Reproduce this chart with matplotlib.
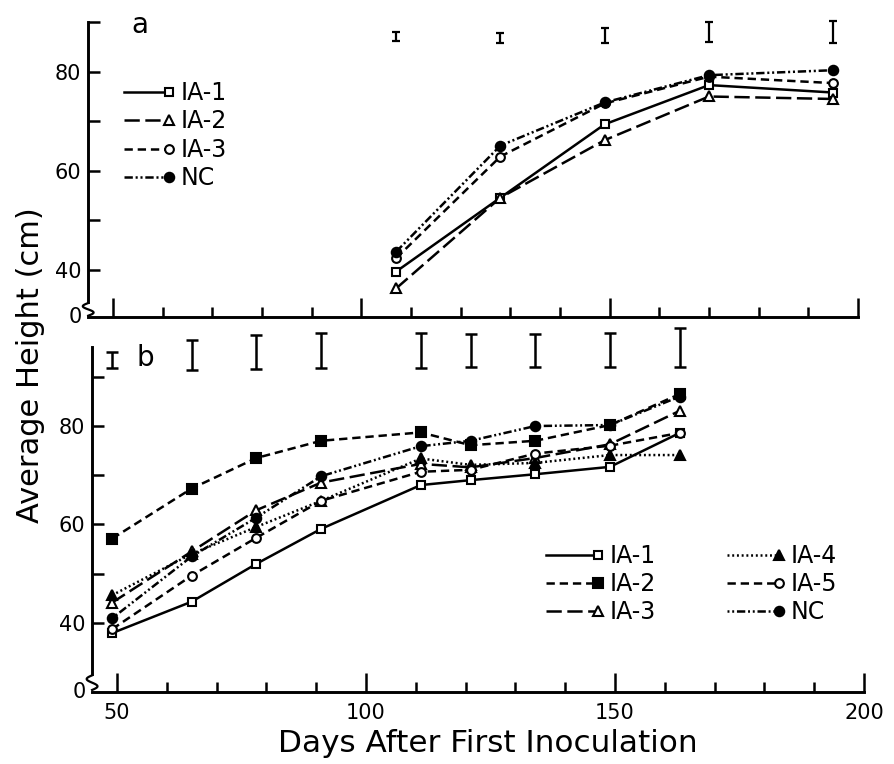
import numpy as np
import matplotlib
matplotlib.use("Agg")
import matplotlib.pyplot as plt
from matplotlib.lines import Line2D
from matplotlib.legend_handler import HandlerLine2D

plt.rcParams['font.family'] = ['DejaVu Sans']
plt.rcParams['lines.scale_dashes'] = False

# ---------------- data ----------------
# panel a
days_a = [107, 128, 149, 170, 195]
a_ia1 = [39.7, 54.6, 69.4, 77.3, 75.8]
a_ia2 = [36.3, 54.6, 66.2, 75.0, 74.5]
a_ia3 = [42.4, 62.9, 73.6, 79.0, 77.7]
a_nc = [43.7, 65.1, 73.8, 79.3, 80.3]
a_bar_center = [87.1, 86.8, 87.3, 88.0, 88.0]
a_bar_half = [1.0, 0.95, 1.45, 2.1, 2.25]

# panel b
days_b = [49, 65, 78, 91, 111, 121, 134, 149, 163]
b_ia1 = [37.9, 44.3, 52.0, 59.1, 68.0, 69.0, 70.2, 71.7, 78.6]
b_ia2 = [57.1, 67.3, 73.5, 77.0, 78.7, 76.1, 77.0, 80.2, 86.5]
b_ia3 = [44.1, 54.5, 62.9, 68.5, 72.3, 71.6, 73.5, 76.3, 83.1]
b_ia4 = [45.6, 54.0, 59.5, 64.8, 73.4, 72.1, 72.5, 74.1, 74.1]
b_ia5 = [38.7, 49.6, 57.3, 64.8, 70.7, 71.1, 74.4, 76.0, 78.6]
b_nc = [40.9, 53.5, 61.4, 69.8, 75.9, 77.0, 80.0, 80.2, 86.0]
b_bar_center = [93.4, 94.5, 95.0, 95.3, 95.3, 95.4, 95.4, 95.5, 95.9]
b_bar_half = [1.7, 3.05, 3.5, 3.55, 3.55, 3.4, 3.4, 3.5, 3.95]

y_ticks = [40, 50, 60, 70, 80, 90]
y_ticklabels = ['40', '', '60', '', '80', '']
x_major = [50, 100, 150, 200]
x_labels = ['50', '100', '150', '200']

# ---------------- figure ----------------
W, H = 895, 764
fig = plt.figure(figsize=(W / 100, H / 100), dpi=100)


def px_axes(x0, x1, y_top, y_bot):
    return fig.add_axes([x0 / W, 1 - y_bot / H, (x1 - x0) / W, (y_bot - y_top) / H])


ax_a = px_axes(88.2, 858, 22.1, 317.2)
ax_b = px_axes(92.1, 864, 347.3, 691.7)
ax_a.set_xlim(45, 200)
ax_a.set_ylim(30.5, 90)
ax_b.set_xlim(45, 200)
ax_b.set_ylim(26, 96)

LW = 1.8
common = dict(color='black', lw=LW, mec='black', mew=1.5)

dash_nc = (0, (6, 2, 1.5, 2, 1.5, 2))

a_series = [
    ('IA-1', a_ia1, dict(ls='-', marker='s', mfc='white', ms=6.3)),
    ('IA-2', a_ia2, dict(ls=(0, (11, 4)), marker='^', mfc='white', ms=7.5)),
    ('IA-3', a_ia3, dict(ls=(0, (6, 3.5)), marker='o', mfc='white', ms=6.3)),
    ('NC', a_nc, dict(ls=dash_nc, marker='o', mfc='black', ms=6.8)),
]
b_series = [
    ('IA-1', b_ia1, dict(ls='-', marker='s', mfc='white', ms=6.3)),
    ('IA-2', b_ia2, dict(ls=(0, (6, 3.5)), marker='s', mfc='black', ms=6.8)),
    ('IA-3', b_ia3, dict(ls=(0, (11, 4)), marker='^', mfc='white', ms=7.5)),
    ('IA-4', b_ia4, dict(ls=(0, (1.4, 2)), marker='^', mfc='black', ms=7.5)),
    ('IA-5', b_ia5, dict(ls=(0, (6, 3.5)), marker='o', mfc='white', ms=6.3)),
    ('NC', b_nc, dict(ls=(0, (1.4, 2, 1.4, 2, 6, 2)), marker='o', mfc='black', ms=6.8)),
]

a_handles = []
for name, vals, st in a_series:
    (ln,) = ax_a.plot(days_a, vals, label=name, **common, **st)
    a_handles.append(ln)
b_handles = []
for name, vals, st in b_series:
    (ln,) = ax_b.plot(days_b, vals, label=name, **common, **st)
    b_handles.append(ln)


def bars(ax, x, c, h, lw, cap):
    cont = ax.errorbar(x, c, yerr=h, fmt='none', ecolor='black',
                       elinewidth=lw, capsize=cap, capthick=lw)
    for art in cont.get_children():
        art.set_clip_on(False)


bars(ax_a, days_a, a_bar_center, a_bar_half, 1.6, 2.9)
bars(ax_b, days_b, b_bar_center, b_bar_half, 1.8, 4.3)

# ---------------- axes styling ----------------
for ax, ybreak in ((ax_a, 33.5), (ax_b, 29.5)):
    ax.spines['top'].set_visible(False)
    ax.spines['right'].set_visible(False)
    for s in ('left', 'bottom'):
        ax.spines[s].set_linewidth(2.1)
    ax.spines['left'].set_bounds(ybreak, ax.get_ylim()[1])
    ax.set_yticks(y_ticks)
    ax.set_yticklabels(y_ticklabels)
    ax.set_xticks(x_major)
    ax.set_xticks(np.arange(60, 200, 10), minor=True)
    ax.tick_params(axis='y', direction='in', length=8.5, width=1.8,
                   labelsize=15, pad=5)
    ax.tick_params(axis='x', which='major', direction='in', length=14,
                   width=1.8, labelsize=15, pad=8)
    ax.tick_params(axis='x', which='minor', direction='in', length=7,
                   width=1.8)
    # axis break squiggle and zero
    y0, y1 = ax.get_ylim()
    fb = (ybreak - y0) / (y1 - y0)
    t = np.linspace(0, 1, 40)
    ax.plot(-0.007 * np.sin(2 * np.pi * t), fb * (1 - t) * 0.85 + fb * 0.1,
            transform=ax.transAxes, color='black', lw=1.6, clip_on=False)
    ax.text(-0.008, 0.0, '0', transform=ax.transAxes, ha='right',
            va='center', fontsize=15)

ax_a.set_xticklabels([])
ax_b.set_xticklabels(x_labels)


# ---------------- legends ----------------
class EndMarkerHandler(HandlerLine2D):
    def create_artists(self, legend, orig_handle, xdescent, ydescent,
                       width, height, fontsize, trans):
        xdata = np.array([-xdescent, -xdescent + width])
        yv = (height - ydescent) / 2
        line = Line2D(xdata, [yv, yv])
        self.update_prop(line, orig_handle, legend)
        line.set_marker('None')
        mk = Line2D([xdata[-1]], [yv])
        self.update_prop(mk, orig_handle, legend)
        mk.set_linestyle('None')
        line.set_transform(trans)
        mk.set_transform(trans)
        return [line, mk]


hmap = {Line2D: EndMarkerHandler()}
leg_a = ax_a.legend(handles=a_handles, loc='upper left',
                    bbox_to_anchor=(124 / W, 1 - 81 / H),
                    bbox_transform=fig.transFigure, frameon=False,
                    fontsize=17, handlelength=1.9, handletextpad=0.5,
                    labelspacing=0.19, borderpad=0, borderaxespad=0,
                    handler_map=hmap)
leg_b = ax_b.legend(handles=b_handles, loc='upper left', ncol=2,
                    bbox_to_anchor=(546 / W, 1 - 544 / H),
                    bbox_transform=fig.transFigure, frameon=False,
                    fontsize=17, handlelength=2.2, handletextpad=0.5,
                    labelspacing=0.17, columnspacing=3.0, borderpad=0,
                    borderaxespad=0, handler_map=hmap)

# ---------------- labels ----------------
fig.text(140 / W, 1 - 25 / H, 'a', fontsize=20, ha='center', va='center')
fig.text(145 / W, 1 - 358 / H, 'b', fontsize=20, ha='center', va='center')
fig.text(31 / W, 1 - 365 / H, 'Average Height (cm)', rotation=90,
         fontsize=22, ha='center', va='center')
fig.text(488 / W, 1 - 752 / H, 'Days After First Inoculation',
         fontsize=22.4, ha='center', va='baseline')

fig.savefig('out.png', dpi=100)
